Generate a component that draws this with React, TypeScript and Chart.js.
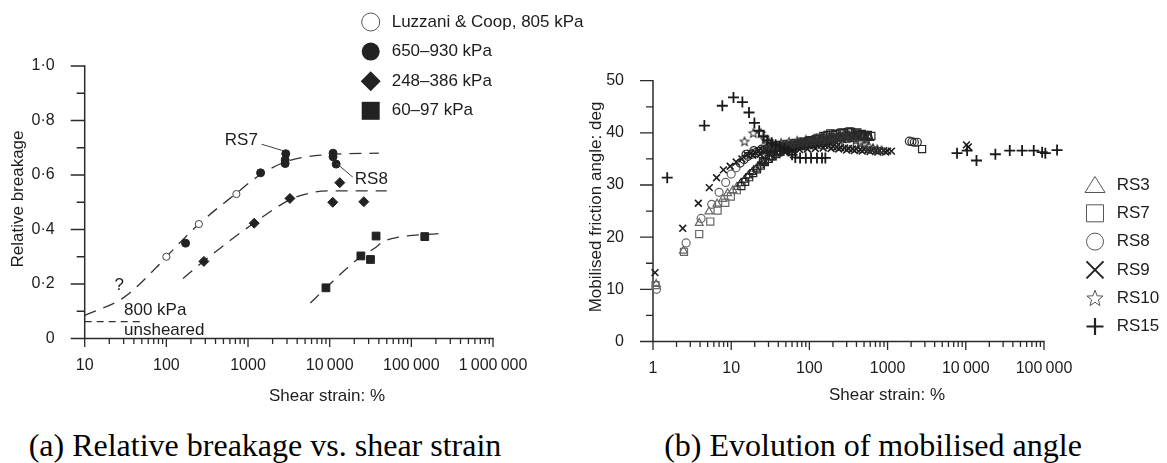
import React, { useEffect, useRef } from 'react';
import { Chart, registerables } from 'chart.js';

Chart.register(...registerables);

const FONT = '"Liberation Sans", Arial, Helvetica, sans-serif';
const INK = '#1e1c1d';
const AXIS = '#2a2a2a';

// ---------------- Panel (a): relative breakage vs shear strain ----------------
const strainTicksA = [10, 100, 1000, 10000, 100000, 1000000];
const strainTickLabelsA = ['10', '100', '1000', '10\u2009000', '100\u2009000', '1\u2009000\u2009000'];
const breakageTicks = [0, 0.2, 0.4, 0.6, 0.8, 1.0];
const breakageTickLabels = ['0', '0·2', '0·4', '0·6', '0·8', '1·0'];
const breakageMinorTicks = [0.1, 0.3, 0.5, 0.7, 0.9];

// [shear strain %, relative breakage]
const luzzaniCoop: [number, number][] = [[100, 0.30], [250, 0.42], [720, 0.53]];
const stress650to930: [number, number][] = [
  [172, 0.35], [1425, 0.608], [2900, 0.678], [2850, 0.655], [2850, 0.642],
  [11000, 0.68], [11000, 0.667], [12000, 0.64],
];
const stress248to386: [number, number][] = [
  [288, 0.283], [1190, 0.423], [3260, 0.514], [13300, 0.572], [10900, 0.50], [26200, 0.502],
];
const stress60to97: [number, number][] = [
  [9000, 0.186], [24100, 0.303], [31600, 0.29], [37000, 0.376], [146000, 0.374],
];
const trendHigh: [number, number][] = [
  [10, 0.085], [30, 0.15], [75, 0.26], [100, 0.30], [250, 0.42], [700, 0.53],
  [1400, 0.60], [3000, 0.65], [10000, 0.675], [40000, 0.68],
];
const trendMid: [number, number][] = [
  [160, 0.22], [290, 0.285], [1200, 0.425], [3300, 0.51], [6000, 0.535], [10000, 0.542], [50000, 0.542],
];
const trendLow: [number, number][] = [
  [5800, 0.13], [9000, 0.186], [24000, 0.30], [35000, 0.33], [45000, 0.355], [70000, 0.372], [215000, 0.385],
];
const unsheared800: [number, number][] = [[10, 0.062], [50, 0.062]];

const legendA = [
  { kind: 'circleOpen', label: 'Luzzani & Coop, 805 kPa' },
  { kind: 'circle', label: '650–930 kPa' },
  { kind: 'diamond', label: '248–386 kPa' },
  { kind: 'square', label: '60–97 kPa' },
];
const annotationsA = [
  { text: 'RS7', x: 1320, y: 0.728, align: 'right' },
  { text: 'RS8', x: 20300, y: 0.585, align: 'left' },
  { text: '?', x: 26.5, y: 0.196, align: 'center' },
  { text: '800 kPa', x: 30.3, y: 0.105, align: 'left' },
  { text: 'unsheared', x: 30.3, y: 0.031, align: 'left' },
];
const leadersA: [number, number, number, number][] = [
  [1466, 0.713, 2690, 0.689],
  [12100, 0.643, 19200, 0.592],
];

// ---------------- Panel (b): mobilised friction angle ----------------
const strainTicksB = [1, 10, 100, 1000, 10000, 100000];
const strainTickLabelsB = ['1', '10', '100', '1000', '10\u2009000', '100\u2009000'];
const angleTicks = [0, 10, 20, 30, 40, 50];
const angleTickLabels = ['0', '10', '20', '30', '40', '50'];
const angleMinorTicks = [5, 15, 25, 35, 45];

// [shear strain %, mobilised friction angle deg]
const RS3: [number, number][] = [
  [1.1, 11.0], [2.45, 17.4], [3.9, 22.7], [5.2, 24.9], [6.6, 26.4], [7.8, 27.3], [9.0, 28.4],
  [10.5, 29.0], [11.8, 29.6], [13.2, 30.3], [14.8, 31.0], [16.6, 31.8], [18.6, 32.5], [20.9, 33.1],
  [23.4, 33.7], [26.3, 34.3], [29.5, 34.8], [33.1, 35.3], [37.2, 35.7], [41.7, 36.1], [46.8, 36.5],
  [52.5, 36.8], [58.9, 37.1], [66.1, 37.3], [74.1, 37.5], [83.2, 37.7], [93.3, 37.9], [105, 38.0],
  [117, 38.2], [132, 38.4], [148, 38.5], [166, 38.7], [186, 38.8], [209, 38.9], [234, 39.0],
  [263, 39.1], [295, 39.2], [331, 39.2], [372, 39.3], [417, 39.3], [468, 39.2], [525, 39.1], [589, 39.0],
  [24.7, 34.6], [31.2, 35.3], [39.4, 36.0], [49.6, 36.5], [62.5, 36.9], [78.7, 37.2], [99, 37.6],
  [125, 37.9], [157, 38.3], [198, 38.6], [249, 38.9], [313, 39.1], [394, 39.4], [496, 39.5], [560, 39.4],
];
const RS7: [number, number][] = [
  [1.08, 10.8], [2.49, 17.2], [3.9, 20.6], [5.4, 23.0], [6.7, 25.1], [8.4, 26.6], [9.9, 27.8],
  [11.8, 29.0], [13.5, 29.8], [15.1, 30.6], [17.0, 31.5], [19.1, 32.3], [21.4, 33.0], [24.0, 33.7],
  [27.0, 34.4], [30.2, 35.0], [33.9, 35.5], [38.0, 36.0], [42.7, 36.4], [47.9, 36.8], [53.7, 37.1],
  [60.3, 37.4], [67.6, 37.7], [75.9, 37.9], [85.1, 38.2], [95.5, 38.4], [107, 38.6], [120, 38.8],
  [135, 39.1], [151, 39.4], [170, 39.6], [185, 39.9], [215, 39.8], [243, 39.9], [275, 40.0],
  [310, 40.1], [343, 40.2], [390, 39.9], [440, 39.6], [500, 39.4], [2760, 36.9],
  [25.5, 34.6], [32, 35.6], [40.3, 36.4], [50.7, 37.0], [63.9, 37.6], [80.4, 38.0], [101, 38.5],
  [127, 38.9], [160, 39.3], [200, 39.6], [258, 40.1], [326, 40.3], [410, 40.1], [470, 39.8],
  [560, 39.6], [620, 39.4],
];
const RS8: [number, number][] = [
  [1.11, 10.0], [2.65, 18.9], [4.12, 23.6], [5.63, 26.3], [7.0, 28.6], [8.5, 30.5], [10.0, 32.1],
  [11.5, 33.3], [13.0, 34.2], [14.6, 34.9], [16.4, 35.5], [18.4, 35.9], [20.7, 36.2], [23.2, 36.5],
  [26.0, 36.7], [29.2, 36.9], [32.8, 37.0], [36.8, 37.1], [41.3, 37.2], [46.3, 37.3], [52.0, 37.4],
  [58.3, 37.5], [65.4, 37.6], [73.4, 37.7], [82.4, 37.8], [92.4, 37.9], [104, 38.0], [116, 38.1],
  [131, 38.2], [147, 38.3], [164, 38.4], [184, 38.5], [207, 38.6], [232, 38.7], [261, 38.8],
  [292, 38.9], [328, 39.0], [368, 39.1], [413, 39.2], [1900, 38.4], [2050, 38.3], [2200, 38.2], [2400, 38.2],
  [15.5, 35.9], [19.5, 36.6], [24.5, 36.9], [30.9, 37.4], [38.9, 37.6], [49, 37.8], [61.7, 38.0],
  [77.7, 38.3], [97.8, 38.5], [123, 38.7], [155, 38.9], [195, 39.1], [246, 39.3], [310, 39.5],
  [390, 39.6], [480, 39.4], [560, 39.2],
];
const RS9: [number, number][] = [
  [1.06, 13.2], [2.4, 21.7], [3.8, 26.5], [5.25, 29.5], [6.5, 31.4], [7.95, 32.9], [9.7, 33.6],
  [11.6, 34.4], [13.7, 35.0], [15.9, 35.8], [17.8, 36.1], [20.0, 36.3], [22.4, 36.5], [25.1, 36.6],
  [28.2, 36.7], [31.6, 36.8], [35.5, 36.9], [39.8, 37.0], [44.7, 37.1], [50.1, 37.1], [56.2, 37.2],
  [63.1, 37.3], [70.8, 37.3], [79.4, 37.4], [89.1, 37.4], [100, 37.5], [112, 37.5], [126, 37.6],
  [141, 37.6], [158, 37.6], [178, 37.5], [200, 37.4], [224, 37.3], [251, 37.2], [282, 37.1],
  [316, 37.0], [355, 36.9], [398, 36.9], [447, 36.8], [501, 36.8], [562, 36.7], [631, 36.7],
  [708, 36.6], [794, 36.6], [891, 36.6], [1000, 36.5], [1120, 36.5], [10200, 37.7], [10800, 37.3],
  [18.9, 35.7], [23.7, 35.9], [29.9, 36.1], [37.6, 36.3], [47.3, 36.5], [59.6, 36.6], [75, 36.8],
  [94.4, 36.9], [119, 37.0], [150, 37.1], [189, 37.0], [237, 36.9], [299, 36.7], [376, 36.6],
  [473, 36.5], [596, 36.4], [750, 36.3], [944, 36.3],
];
const RS10: [number, number][] = [
  [14.8, 38.4], [19.2, 40.0], [23.9, 40.0], [27.2, 38.8], [29.0, 38.0], [32, 37.6], [36, 37.5],
  [41, 37.6], [46, 37.7], [52, 37.8], [59, 37.9], [67, 38.0], [76, 38.1], [86, 38.2], [98, 38.3],
  [111, 38.4], [126, 38.5], [143, 38.6], [162, 38.7], [184, 38.8], [209, 38.9], [237, 39.0],
  [269, 39.1], [305, 39.2], [346, 39.0], [393, 38.6], [446, 38.2], [506, 37.8], [574, 37.4],
  [651, 37.1], [738, 36.9], [837, 36.7],
  [34, 37.9], [43.5, 38.1], [55, 38.3], [70, 38.5], [90, 38.7], [115, 38.9], [150, 39.1],
  [195, 39.3], [250, 39.5], [320, 39.6], [420, 39.3], [540, 38.8],
];
const RS15: [number, number][] = [
  [1.52, 31.4], [4.54, 41.4], [7.7, 45.2], [10.7, 46.8], [13.9, 45.9], [16.9, 43.9], [19.8, 41.9],
  [22.8, 40.4], [26, 39.3], [29, 38.6], [33, 38.1], [37, 37.7], [42, 37.4], [48, 37.0], [54, 36.5],
  [60, 35.8], [66, 35.3], [76, 35.2], [90, 35.2], [105, 35.2], [125, 35.2], [145, 35.2], [160, 35.2],
  [7730, 36.1], [10400, 36.6], [13700, 34.7], [23900, 35.9], [36500, 36.6], [52500, 36.6],
  [74000, 36.6], [94700, 36.3], [104000, 36.1], [147000, 36.7],
];

const legendB = [
  { kind: 'triangleOpen', label: 'RS3' },
  { kind: 'squareOpen', label: 'RS7' },
  { kind: 'circleOpen', label: 'RS8' },
  { kind: 'cross', label: 'RS9' },
  { kind: 'star', label: 'RS10' },
  { kind: 'plus', label: 'RS15' },
];

// ---------------- helpers ----------------
const toXY = (arr: [number, number][]) => arr.map(([x, y]) => ({ x, y }));

function minorLogTicks(fromDecade: number, toDecade: number) {
  const out: number[] = [];
  for (let d = fromDecade; d < toDecade; d *= 10) {
    for (let m = 2; m <= 9; m++) out.push(d * m);
  }
  return out;
}

function starPath(g: CanvasRenderingContext2D, cx: number, cy: number, ro: number, ri: number) {
  g.beginPath();
  for (let i = 0; i < 10; i++) {
    const r = i % 2 === 0 ? ro : ri;
    const a = -Math.PI / 2 + (i * Math.PI) / 5;
    const px = cx + r * Math.cos(a);
    const py = cy + r * Math.sin(a);
    if (i === 0) g.moveTo(px, py);
    else g.lineTo(px, py);
  }
  g.closePath();
}

function makeStarImage(r: number, color: string, lw: number) {
  const c = document.createElement('canvas');
  const size = Math.ceil(2 * r + 2 * lw + 2);
  c.width = size;
  c.height = size;
  const g = c.getContext('2d')!;
  g.strokeStyle = color;
  g.lineWidth = lw;
  starPath(g, size / 2, size / 2 + 0.5, r, r * 0.45);
  g.stroke();
  return c;
}

function drawSymbol(ctx: CanvasRenderingContext2D, kind: string, x: number, y: number, s: number) {
  ctx.save();
  const h = s / 2;
  ctx.beginPath();
  switch (kind) {
    case 'circleOpen':
      ctx.arc(x, y, h, 0, Math.PI * 2);
      ctx.fillStyle = '#fff';
      ctx.fill();
      ctx.strokeStyle = '#555';
      ctx.lineWidth = 1;
      ctx.stroke();
      break;
    case 'circle':
      ctx.arc(x, y, h, 0, Math.PI * 2);
      ctx.fillStyle = '#222';
      ctx.fill();
      break;
    case 'diamond':
      ctx.moveTo(x, y - h - 1);
      ctx.lineTo(x + h + 1, y);
      ctx.lineTo(x, y + h + 1);
      ctx.lineTo(x - h - 1, y);
      ctx.closePath();
      ctx.fillStyle = '#222';
      ctx.fill();
      break;
    case 'square':
      ctx.rect(x - h, y - h, s, s);
      ctx.fillStyle = '#222';
      ctx.fill();
      break;
    case 'squareOpen':
      ctx.rect(x - h, y - h, s, s);
      ctx.strokeStyle = '#555';
      ctx.lineWidth = 1;
      ctx.stroke();
      break;
    case 'triangleOpen':
      ctx.moveTo(x, y - h);
      ctx.lineTo(x + h + 1.5, y + h - 1);
      ctx.lineTo(x - h - 1.5, y + h - 1);
      ctx.closePath();
      ctx.strokeStyle = '#555';
      ctx.lineWidth = 1;
      ctx.stroke();
      break;
    case 'cross':
      ctx.moveTo(x - h, y - h);
      ctx.lineTo(x + h, y + h);
      ctx.moveTo(x + h, y - h);
      ctx.lineTo(x - h, y + h);
      ctx.strokeStyle = '#222';
      ctx.lineWidth = 2;
      ctx.stroke();
      break;
    case 'plus':
      ctx.moveTo(x - h, y);
      ctx.lineTo(x + h, y);
      ctx.moveTo(x, y - h);
      ctx.lineTo(x, y + h);
      ctx.strokeStyle = '#222';
      ctx.lineWidth = 2.2;
      ctx.stroke();
      break;
    case 'star':
      starPath(ctx, x, y + 0.5, h, h * 0.42);
      ctx.strokeStyle = '#555';
      ctx.lineWidth = 1;
      ctx.stroke();
      break;
  }
  ctx.restore();
}

function drawText(ctx: CanvasRenderingContext2D, text: string, x: number, y: number, size: number, align: CanvasTextAlign = 'left', rotate = 0) {
  ctx.save();
  ctx.font = `${size}px ${FONT}`;
  ctx.fillStyle = INK;
  ctx.textAlign = align;
  ctx.textBaseline = 'middle';
  ctx.translate(x, y);
  if (rotate) ctx.rotate(rotate);
  ctx.fillText(text, 0, 0);
  ctx.restore();
}

interface AxisDecor {
  xMin: number;
  xEnd: number;
  yMin: number;
  yMax: number;
  xMajor: number[];
  yMajor: number[];
  xMinor: number[];
  yMinor: number[];
  xMajorLen: number;
  xMinorLen: number;
  yMajorLen: number;
  yMinorLen: number;
}

// Axis lines and tick marks, positioned through the chart's own scales.
function axisPlugin(id: string, d: AxisDecor) {
  return {
    id,
    beforeDatasetsDraw(chart: any) {
      const { ctx } = chart;
      const xs = chart.scales.x;
      const ys = chart.scales.y;
      const x0 = xs.getPixelForValue(d.xMin);
      const x1 = xs.getPixelForValue(d.xEnd);
      const yb = ys.getPixelForValue(d.yMin);
      const yt = ys.getPixelForValue(d.yMax);
      ctx.save();
      ctx.strokeStyle = AXIS;
      ctx.lineCap = 'square';
      ctx.lineWidth = 1.5;
      ctx.beginPath();
      ctx.moveTo(x0, yt);
      ctx.lineTo(x0, yb);
      ctx.lineTo(x1, yb);
      ctx.stroke();
      ctx.lineCap = 'butt';
      ctx.lineWidth = 1.3;
      ctx.beginPath();
      d.xMajor.forEach((v) => {
        const px = xs.getPixelForValue(v);
        ctx.moveTo(px, yb);
        ctx.lineTo(px, yb + d.xMajorLen);
      });
      d.xMinor.forEach((v) => {
        const px = xs.getPixelForValue(v);
        ctx.moveTo(px, yb);
        ctx.lineTo(px, yb + d.xMinorLen);
      });
      d.yMajor.forEach((v) => {
        const py = ys.getPixelForValue(v);
        ctx.moveTo(x0, py);
        ctx.lineTo(x0 - d.yMajorLen, py);
      });
      d.yMinor.forEach((v) => {
        const py = ys.getPixelForValue(v);
        ctx.moveTo(x0, py);
        ctx.lineTo(x0 - d.yMinorLen, py);
      });
      ctx.stroke();
      ctx.restore();
    },
  };
}

function majorAxis(ticks: number[], labels: string[], padding: number) {
  return {
    afterBuildTicks: (s: any) => {
      s.ticks = ticks.map((v) => ({ value: v }));
    },
    border: { display: false },
    grid: { display: false },
    ticks: {
      callback: (_v: any, i: number) => labels[i],
      font: { size: 16, family: FONT },
      color: INK,
      padding,
      autoSkip: false,
      maxRotation: 0,
      minRotation: 0,
    },
    title: { display: false },
  };
}

// ---------------- Panel A ----------------
const A_W = 590;
const A_H = 410;

function PanelA() {
  const ref = useRef<HTMLCanvasElement>(null);
  useEffect(() => {
    const markerBase = { showLine: false, clip: false as any, pointBorderWidth: 1 };
    const lineBase = {
      type: 'line' as const,
      borderColor: '#333',
      borderWidth: 1.3,
      pointRadius: 0,
      fill: false,
      cubicInterpolationMode: 'monotone' as const,
    };
    const overlay = {
      id: 'overlayA',
      afterDraw(chart: any) {
        const { ctx } = chart;
        const xs = chart.scales.x;
        const ys = chart.scales.y;
        ctx.save();
        ctx.strokeStyle = '#444';
        ctx.lineWidth = 1;
        ctx.beginPath();
        leadersA.forEach(([xa, ya, xb, yb]) => {
          ctx.moveTo(xs.getPixelForValue(xa), ys.getPixelForValue(ya));
          ctx.lineTo(xs.getPixelForValue(xb), ys.getPixelForValue(yb));
        });
        ctx.stroke();
        ctx.restore();
        annotationsA.forEach((a) =>
          drawText(ctx, a.text, xs.getPixelForValue(a.x), ys.getPixelForValue(a.y), 17, a.align as CanvasTextAlign)
        );
        drawText(ctx, 'Shear strain: %', 327, 396, 17, 'center');
        drawText(ctx, 'Relative breakage', 18.7, 199, 17, 'center', -Math.PI / 2);
        legendA.forEach((item, i) => {
          const y = 22 + i * 29.6;
          drawSymbol(ctx, item.kind, 370.7, y, 18);
          drawText(ctx, item.label, 391.7, y, 17, 'left');
        });
      },
    };
    const chart = new Chart(ref.current!, {
      type: 'scatter',
      data: {
        datasets: [
          {
            ...markerBase,
            label: 'Luzzani & Coop, 805 kPa',
            data: toXY(luzzaniCoop),
            pointStyle: 'circle',
            pointRadius: 3.6,
            pointBackgroundColor: '#fff',
            pointBorderColor: '#444',
          },
          {
            ...markerBase,
            label: '650–930 kPa',
            data: toXY(stress650to930),
            pointStyle: 'circle',
            pointRadius: 4,
            pointBackgroundColor: '#222',
            pointBorderColor: '#222',
          },
          {
            ...markerBase,
            label: '248–386 kPa',
            data: toXY(stress248to386),
            pointStyle: 'rectRot',
            pointRadius: 5,
            pointBackgroundColor: '#222',
            pointBorderColor: '#222',
          },
          {
            ...markerBase,
            label: '60–97 kPa',
            data: toXY(stress60to97),
            pointStyle: 'rect',
            pointRadius: 5.5,
            pointBackgroundColor: '#222',
            pointBorderColor: '#222',
          },
          { ...lineBase, label: 'trend high', data: toXY(trendHigh), borderDash: [12, 8] },
          { ...lineBase, label: 'trend mid', data: toXY(trendMid), borderDash: [12, 8] },
          { ...lineBase, label: 'trend low', data: toXY(trendLow), borderDash: [12, 8] },
          { ...lineBase, label: '800 kPa unsheared', data: toXY(unsheared800), borderDash: [7, 5], cubicInterpolationMode: 'default' as const },
        ] as any,
      },
      options: {
        responsive: false,
        animation: false,
        devicePixelRatio: 1,
        events: [],
        layout: { padding: { left: 0, top: 66, right: A_W - 493, bottom: 0 } },
        plugins: { legend: { display: false }, tooltip: { enabled: false } },
        scales: {
          x: {
            type: 'logarithmic',
            position: 'bottom',
            min: 10,
            max: 1000000,
            afterFit: (s: any) => {
              s.height = A_H - 338.5;
            },
            ...majorAxis(strainTicksA, strainTickLabelsA, 9.5),
          } as any,
          y: {
            type: 'linear',
            position: 'left',
            min: 0,
            max: 1,
            afterFit: (s: any) => {
              s.width = 84.7;
            },
            ...majorAxis(breakageTicks, breakageTickLabels, 22),
          } as any,
        },
      },
      plugins: [
        axisPlugin('axesA', {
          xMin: 10,
          xEnd: 1000000,
          yMin: 0,
          yMax: 1,
          xMajor: strainTicksA,
          yMajor: breakageTicks,
          xMinor: minorLogTicks(10, 1000000),
          yMinor: breakageMinorTicks,
          xMajorLen: 8.5,
          xMinorLen: 5.5,
          yMajorLen: 14,
          yMinorLen: 8,
        }),
        overlay,
      ],
    });
    return () => chart.destroy();
  }, []);
  return (
    <canvas
      ref={ref}
      width={A_W}
      height={A_H}
      style={{ position: 'absolute', left: 0, top: 0, width: A_W, height: A_H }}
    />
  );
}

// ---------------- Panel B ----------------
const B_LEFT = 580;
const B_W = 587;
const B_H = 410;

function PanelB() {
  const ref = useRef<HTMLCanvasElement>(null);
  useEffect(() => {
    const starImg = makeStarImage(4.6, '#333', 1.1);
    const base = { showLine: false, clip: false as any };
    // rising (sparse) part drawn mid-grey, dense band dark
    const openColor = (c: any) => (c.raw && c.raw.x > 12 ? '#262626' : '#666');
    const overlay = {
      id: 'overlayB',
      afterDraw(chart: any) {
        const { ctx } = chart;
        drawText(ctx, 'Shear strain: %', 887 - B_LEFT, 395, 17, 'center');
        drawText(ctx, 'Mobilised friction angle: deg', 596.7 - B_LEFT, 207, 17, 'center', -Math.PI / 2);
        legendB.forEach((item, i) => {
          const y = 185 + i * 28.3;
          drawSymbol(ctx, item.kind, 1095 - B_LEFT, y, 17);
          drawText(ctx, item.label, 1116.7 - B_LEFT, y, 17, 'left');
        });
      },
    };
    const chart = new Chart(ref.current!, {
      type: 'scatter',
      data: {
        datasets: [
          {
            ...base,
            label: 'RS15',
            data: toXY(RS15),
            pointStyle: 'cross',
            pointRadius: 5.5,
            pointBorderWidth: 1.8,
            pointBorderColor: '#1a1a1a',
          },
          {
            ...base,
            label: 'RS10',
            data: toXY(RS10),
            pointStyle: starImg,
            pointRadius: 4.6,
          },
          {
            ...base,
            label: 'RS9',
            data: toXY(RS9),
            pointStyle: 'crossRot',
            pointRadius: 4.8,
            pointBorderWidth: 1.6,
            pointBorderColor: '#1e1e1e',
          },
          {
            ...base,
            label: 'RS8',
            data: toXY(RS8),
            pointStyle: 'circle',
            pointRadius: 4,
            pointBorderWidth: 1.2,
            pointBorderColor: openColor,
            pointBackgroundColor: 'rgba(255,255,255,0)',
          },
          {
            ...base,
            label: 'RS7',
            data: toXY(RS7),
            pointStyle: 'rect',
            pointRadius: 5,
            pointBorderWidth: 1.2,
            pointBorderColor: openColor,
            pointBackgroundColor: 'rgba(255,255,255,0)',
          },
          {
            ...base,
            label: 'RS3',
            data: toXY(RS3),
            pointStyle: 'triangle',
            pointRadius: 4.6,
            pointBorderWidth: 1.2,
            pointBorderColor: openColor,
            pointBackgroundColor: 'rgba(255,255,255,0)',
          },
        ] as any,
      },
      options: {
        responsive: false,
        animation: false,
        devicePixelRatio: 1,
        events: [],
        layout: { padding: { left: 0, top: 80.7, right: 105, bottom: 0 } },
        plugins: { legend: { display: false }, tooltip: { enabled: false } },
        scales: {
          x: {
            type: 'logarithmic',
            position: 'bottom',
            min: 1,
            max: 170000,
            afterFit: (s: any) => {
              s.height = B_H - 341.5;
            },
            ...majorAxis(strainTicksB, strainTickLabelsB, 9.5),
          } as any,
          y: {
            type: 'linear',
            position: 'left',
            min: 0,
            max: 50,
            afterFit: (s: any) => {
              s.width = 653 - B_LEFT;
            },
            ...majorAxis(angleTicks, angleTickLabels, 21),
          } as any,
        },
      },
      plugins: [
        axisPlugin('axesB', {
          xMin: 1,
          xEnd: 100000,
          yMin: 0,
          yMax: 50,
          xMajor: strainTicksB,
          yMajor: angleTicks,
          xMinor: minorLogTicks(1, 100000),
          yMinor: angleMinorTicks,
          xMajorLen: 8.5,
          xMinorLen: 5.5,
          yMajorLen: 13,
          yMinorLen: 7,
        }),
        overlay,
      ],
    });
    return () => chart.destroy();
  }, []);
  return (
    <canvas
      ref={ref}
      width={B_W}
      height={B_H}
      style={{ position: 'absolute', left: B_LEFT, top: 0, width: B_W, height: B_H }}
    />
  );
}

const captionStyle: React.CSSProperties = {
  position: 'absolute',
  top: 427,
  transform: 'translateX(-50%)',
  font: '32px "Liberation Serif", "Times New Roman", serif',
  lineHeight: '36px',
  whiteSpace: 'nowrap',
  color: '#000',
};

export default function App() {
  return (
    <div
      style={{
        position: 'fixed',
        left: 0,
        top: 0,
        width: 1167,
        height: 463,
        background: '#fff',
        overflow: 'hidden',
      }}
    >
      <PanelA />
      <PanelB />
      <div style={{ ...captionStyle, left: 265 }}>(a) Relative breakage vs. shear strain</div>
      <div style={{ ...captionStyle, left: 873 }}>(b) Evolution of mobilised angle</div>
    </div>
  );
}
